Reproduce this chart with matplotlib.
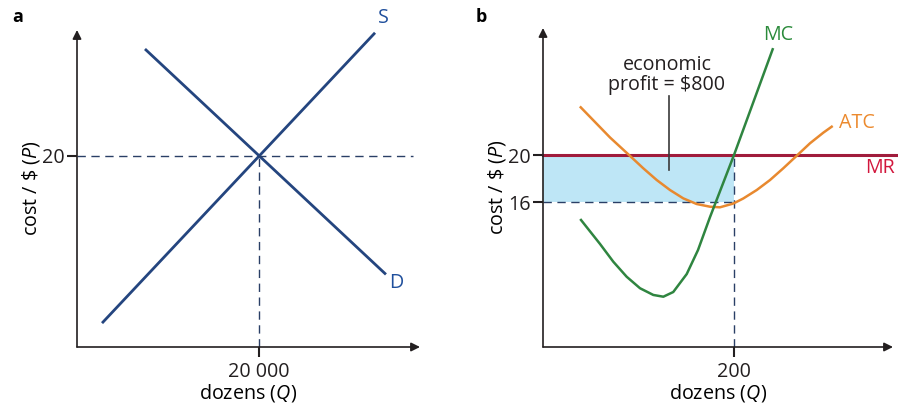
import matplotlib.pyplot as plt

plt.rcParams['font.family'] = ['Open Sans', 'DejaVu Sans']
plt.rcParams['mathtext.fontset'] = 'custom'
plt.rcParams['mathtext.rm'] = 'Open Sans'
plt.rcParams['mathtext.it'] = 'Open Sans:italic'

# ---- panel a : market supply / demand ----
supply_q = [2750, 32750]
supply_p = [2.5, 32.9]
demand_q = [7470, 33950]
demand_p = [31.2, 7.6]
eq_q = 20000
eq_p = 20

# ---- panel b : firm cost curves ----
mc_q = [39.8, 59.7, 73.6, 87.6, 101.6, 115.5, 126.0, 136.4, 150.5, 162.3,
        174.9, 200.0, 240.5]
mc_cost = [14.47, 12.43, 10.92, 9.64, 8.66, 8.09, 7.94, 8.34, 9.87, 11.91,
           14.72, 20.0, 29.0]
atc_q = [39.5, 70.2, 90.1, 105.0, 119.1, 133.0, 146.9, 160.9, 174.9, 185.3,
         199.3, 209.7, 223.8, 237.7, 251.6, 265.7, 279.6, 293.5, 302.3]
atc_cost = [24.06, 21.49, 20.0, 18.87, 17.87, 17.02, 16.31, 15.83, 15.60, 15.55,
            15.87, 16.30, 17.02, 17.87, 18.87, 19.94, 21.0, 21.90, 22.41]
mr_price = 20
firm_q = 200
atc_at_q = 16

W, H = 898, 407
AXC = '#231f20'
NAVY = '#24457f'
DASH = '#2a3f66'

fig = plt.figure(figsize=(W / 100, H / 100), dpi=100)


def px_axes(l, r, b, t):
    return fig.add_axes([l / W, 1 - b / H, (r - l) / W, (b - t) / H])


def arrow_axes(ax):
    for s in ax.spines.values():
        s.set_visible(False)
    for tip in [(1, 0), (0, 1)]:
        ax.annotate('', xy=tip, xytext=(0, 0), xycoords='axes fraction',
                    arrowprops=dict(arrowstyle='-|>', color=AXC, lw=1.2,
                                    mutation_scale=13, shrinkA=0, shrinkB=0))
    ax.tick_params(colors=AXC, width=1.5, length=7, labelsize=14.2, pad=2)
    ax.tick_params(axis='x', pad=4)
    ax.patch.set_alpha(0)


# ------------------------- panel a -------------------------
ax1 = px_axes(77, 420, 347, 30)
ax1.set_xlim(0, 37692)
ax1.set_ylim(0, 33.19)
arrow_axes(ax1)
ax1.plot(supply_q, supply_p, color=NAVY, lw=2.0, solid_capstyle='butt', clip_on=False)
ax1.plot(demand_q, demand_p, color=NAVY, lw=2.0, solid_capstyle='butt', clip_on=False)
ax1.plot([0, 36900], [eq_p, eq_p], color=DASH, lw=1.0, ls=(0, (6, 4)))
ax1.plot([eq_q, eq_q], [0, eq_p], color=DASH, lw=1.0, ls=(0, (6, 4)))
ax1.set_xticks([eq_q])
ax1.set_xticklabels(['20 000'])
ax1.set_yticks([eq_p])
ax1.set_yticklabels(['20'])
ax1.text(33626, 34.4, 'S', color='#1f4f9c', fontsize=14.2, ha='center', va='center')
ax1.text(35055, 6.7, 'D', color='#1f4f9c', fontsize=14.2, ha='center', va='center')
ax1.set_xlabel('dozens ($Q$)', fontsize=14.2, labelpad=0)
ax1.set_ylabel(r'cost / \$ ($P$)', fontsize=14.2, labelpad=0)
fig.text(12 / W, 1 - 17 / H, 'a', fontsize=13, fontweight='bold', va='center')

# ------------------------- panel b -------------------------
ax2 = px_axes(543, 893, 347, 28)
ax2.set_xlim(0, 366.5)
ax2.set_ylim(3.66, 30.81)
arrow_axes(ax2)
ax2.fill_between([0, firm_q], atc_at_q, mr_price, color='#bee6f6', lw=0)
ax2.plot([0, firm_q], [atc_at_q, atc_at_q], color=DASH, lw=1.0, ls=(0, (6, 4)))
ax2.plot([firm_q, firm_q], [3.66, mr_price], color=DASH, lw=1.0, ls=(0, (6, 4)))
ax2.axhline(mr_price, xmin=0, xmax=355 / 350, color='#a01c3c', lw=2.2, clip_on=False)
ax2.plot(atc_q, atc_cost, color='#e8892f', lw=1.8, clip_on=False,
         solid_joinstyle='round')
ax2.plot(mc_q, mc_cost, color='#2f8540', lw=1.8, clip_on=False,
         solid_joinstyle='round')
ax2.plot([131.9, 131.9], [25.0, 18.7], color='#3a3a3a', lw=1.2)
ax2.text(129.8, 26.8, 'economic\nprofit = \\$800', fontsize=14.2, ha='center',
         va='center', linespacing=1.05, color=AXC)
ax2.text(246, 30.2, 'MC', color='#2a8a3a', fontsize=14.2, ha='center', va='center')
ax2.text(328.8, 22.7, 'ATC', color='#ec8a2e', fontsize=14.2, ha='center', va='center')
ax2.text(352.9, 18.9, 'MR', color='#d2163c', fontsize=14.2, ha='center', va='center')
ax2.set_xticks([firm_q])
ax2.set_yticks([atc_at_q, mr_price])
ax2.set_xlabel('dozens ($Q$)', fontsize=14.2, labelpad=0)
ax2.set_ylabel(r'cost / \$ ($P$)', fontsize=14.2, labelpad=0)
fig.text(476 / W, 1 - 17 / H, 'b', fontsize=13, fontweight='bold', va='center')

fig.savefig('out.png', dpi=100)
